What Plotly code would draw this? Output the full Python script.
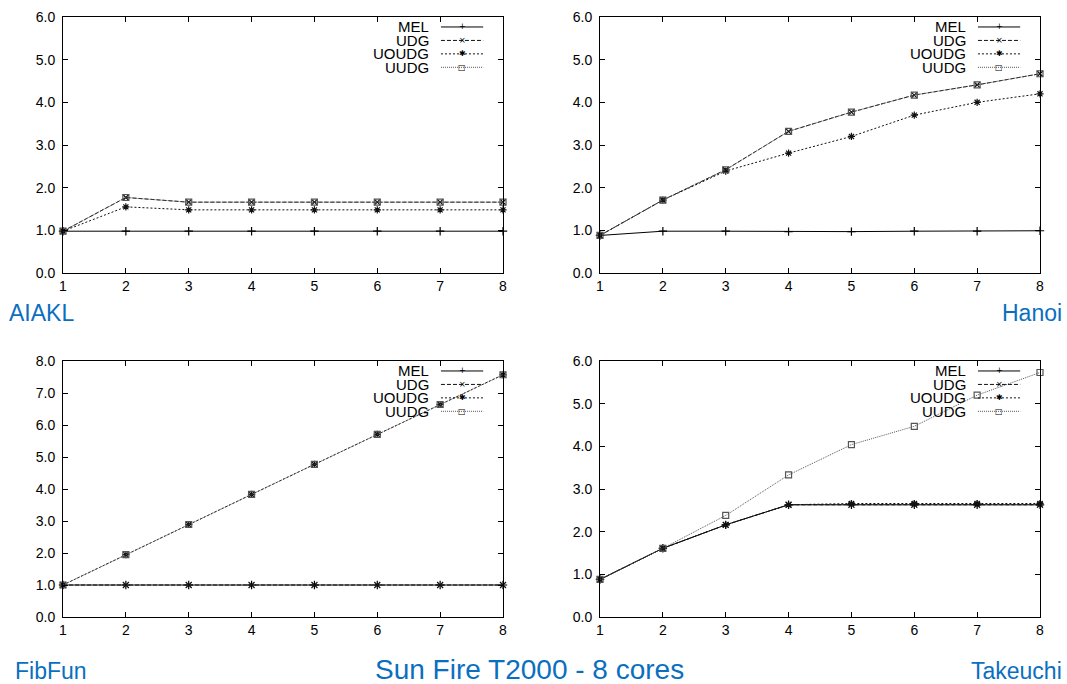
import plotly.graph_objects as go

cores = [1, 2, 3, 4, 5, 6, 7, 8]
series_names = ["MEL", "UDG", "UOUDG", "UUDG"]

aiakl_mel = [0.98, 0.98, 0.98, 0.98, 0.98, 0.98, 0.98, 0.98]
aiakl_udg = [0.98, 1.77, 1.66, 1.66, 1.66, 1.66, 1.66, 1.66]
aiakl_uoudg = [0.98, 1.55, 1.48, 1.48, 1.48, 1.48, 1.48, 1.48]
aiakl_uudg = [0.98, 1.77, 1.66, 1.66, 1.66, 1.66, 1.66, 1.66]

hanoi_mel = [0.88, 0.98, 0.98, 0.97, 0.97, 0.98, 0.98, 0.99]
hanoi_udg = [0.88, 1.71, 2.42, 3.32, 3.77, 4.17, 4.41, 4.67]
hanoi_uoudg = [0.88, 1.71, 2.39, 2.81, 3.20, 3.70, 4.00, 4.20]
hanoi_uudg = [0.88, 1.71, 2.42, 3.32, 3.77, 4.17, 4.41, 4.67]

fibfun_mel = [1.0, 1.0, 1.0, 1.0, 1.0, 1.0, 1.0, 1.0]
fibfun_udg = [1.0, 1.0, 1.0, 1.0, 1.0, 1.0, 1.0, 1.0]
fibfun_uoudg = [1.0, 1.95, 2.89, 3.83, 4.77, 5.71, 6.64, 7.57]
fibfun_uudg = [1.0, 1.95, 2.89, 3.83, 4.77, 5.71, 6.64, 7.57]

takeuchi_mel = [0.88, 1.61, 2.16, 2.63, 2.63, 2.63, 2.63, 2.63]
takeuchi_udg = [0.88, 1.61, 2.16, 2.63, 2.63, 2.63, 2.63, 2.63]
takeuchi_uoudg = [0.88, 1.61, 2.16, 2.63, 2.66, 2.66, 2.66, 2.66]
takeuchi_uudg = [0.88, 1.61, 2.38, 3.33, 4.04, 4.47, 5.20, 5.73]

y_max = [6, 6, 8, 6]
panel_names = ["AIAKL", "Hanoi", "FibFun", "Takeuchi"]
title_text = "Sun Fire T2000 - 8 cores"

panels = [
    [aiakl_mel, aiakl_udg, aiakl_uoudg, aiakl_uudg],
    [hanoi_mel, hanoi_udg, hanoi_uoudg, hanoi_uudg],
    [fibfun_mel, fibfun_udg, fibfun_uoudg, fibfun_uudg],
    [takeuchi_mel, takeuchi_udg, takeuchi_uoudg, takeuchi_uudg],
]

# styles
line_dash = ["solid", "4px,2px", "2px,2px", "1px,1px"]
line_color = ["#000000", "#111111", "#111111", "#555555"]
marker_sym = ["cross-thin-open", "x-thin-open", "asterisk-open", "square-open"]
marker_size = [6, 6, 6, 6]
legend_glyph = ["+", "×", "✱", "□"]

W, H = 1067, 684
xdom = [[63 / W, 503 / W], [600 / W, 1040 / W]]
ydom = [[1 - 273 / H, 1 - 17 / H], [1 - 617 / H, 1 - 361 / H]]

fig = go.Figure()
blue = "#0a6fc0"
font_family = "Liberation Sans, Arial, sans-serif"

for p in range(4):
    r, c = divmod(p, 2)
    ax = "" if p == 0 else str(p + 1)
    xa, ya = "x" + ax, "y" + ax
    for s in range(4):
        fig.add_trace(go.Scatter(
            x=cores, y=panels[p][s], xaxis=xa, yaxis=ya, mode="lines+markers",
            name=series_names[s], showlegend=False, cliponaxis=False,
            line=dict(color=line_color[s], width=1, dash=line_dash[s]),
            marker=dict(symbol=marker_sym[s], size=marker_size[s],
                        color=line_color[s], line=dict(color=line_color[s], width=1.2)),
        ))
    common = dict(showline=True, linecolor="black", linewidth=1, mirror="ticks",
                  ticks="inside", ticklen=5, tickcolor="black", showgrid=False,
                  zeroline=False, automargin=False,
                  tickfont=dict(family=font_family, size=14, color="black"))
    fig.update_layout(**{
        "xaxis" + ax: dict(domain=xdom[c], range=[1, 8], tickmode="linear", tick0=1, dtick=1,
                           anchor=ya, **common),
        "yaxis" + ax: dict(domain=ydom[r], range=[0, y_max[p]], tickmode="linear", tick0=0,
                           dtick=1, tickformat=".1f", anchor=xa, ticklabelstandoff=4, **common),
    })
    # legend inside each panel (text on left, sample on right)
    xref_d = xa + " domain"
    yref_d = ya + " domain"
    for s in range(4):
        yy = 0.961 - s * 0.0525
        fig.add_annotation(xref=xref_d, yref=yref_d, x=0.836, y=yy, text=series_names[s],
                           showarrow=False, xanchor="right", yanchor="middle", height=13,
                           font=dict(family=font_family, size=15, color="black"))
        fig.add_shape(type="line", xref=xref_d, yref=yref_d, x0=0.859, x1=0.955, y0=yy, y1=yy,
                      line=dict(color=line_color[s], width=1, dash=line_dash[s]))
        fig.add_annotation(xref=xref_d, yref=yref_d, x=0.907, y=yy, text=legend_glyph[s],
                           showarrow=False, xanchor="center", yanchor="middle",
                           font=dict(family="DejaVu Sans", size=8, color="black"))

# panel names
name_font = dict(family=font_family, size=23, color=blue)
fig.add_annotation(xref="paper", yref="paper", x=7 / W, y=1 - 313 / H, text=panel_names[0],
                   showarrow=False, xanchor="left", yanchor="middle", font=name_font)
fig.add_annotation(xref="paper", yref="paper", x=1064 / W, y=1 - 313 / H, text=panel_names[1],
                   showarrow=False, xanchor="right", yanchor="middle", font=name_font)
fig.add_annotation(xref="paper", yref="paper", x=13 / W, y=1 - 671 / H, text=panel_names[2],
                   showarrow=False, xanchor="left", yanchor="middle", font=name_font)
fig.add_annotation(xref="paper", yref="paper", x=1064 / W, y=1 - 671 / H, text=panel_names[3],
                   showarrow=False, xanchor="right", yanchor="middle", font=name_font)
fig.add_annotation(xref="paper", yref="paper", x=529 / W, y=1 - 669 / H, text=title_text,
                   showarrow=False, xanchor="center", yanchor="middle",
                   font=dict(family=font_family, size=28, color=blue))

fig.update_layout(width=W, height=H, margin=dict(l=0, r=0, t=0, b=0, autoexpand=False),
                  paper_bgcolor="white", plot_bgcolor="white", showlegend=False)

fig.write_html("out.html", config={"displayModeBar": False},
               post_script="document.body.style.margin='0';document.body.style.overflow='hidden';")
